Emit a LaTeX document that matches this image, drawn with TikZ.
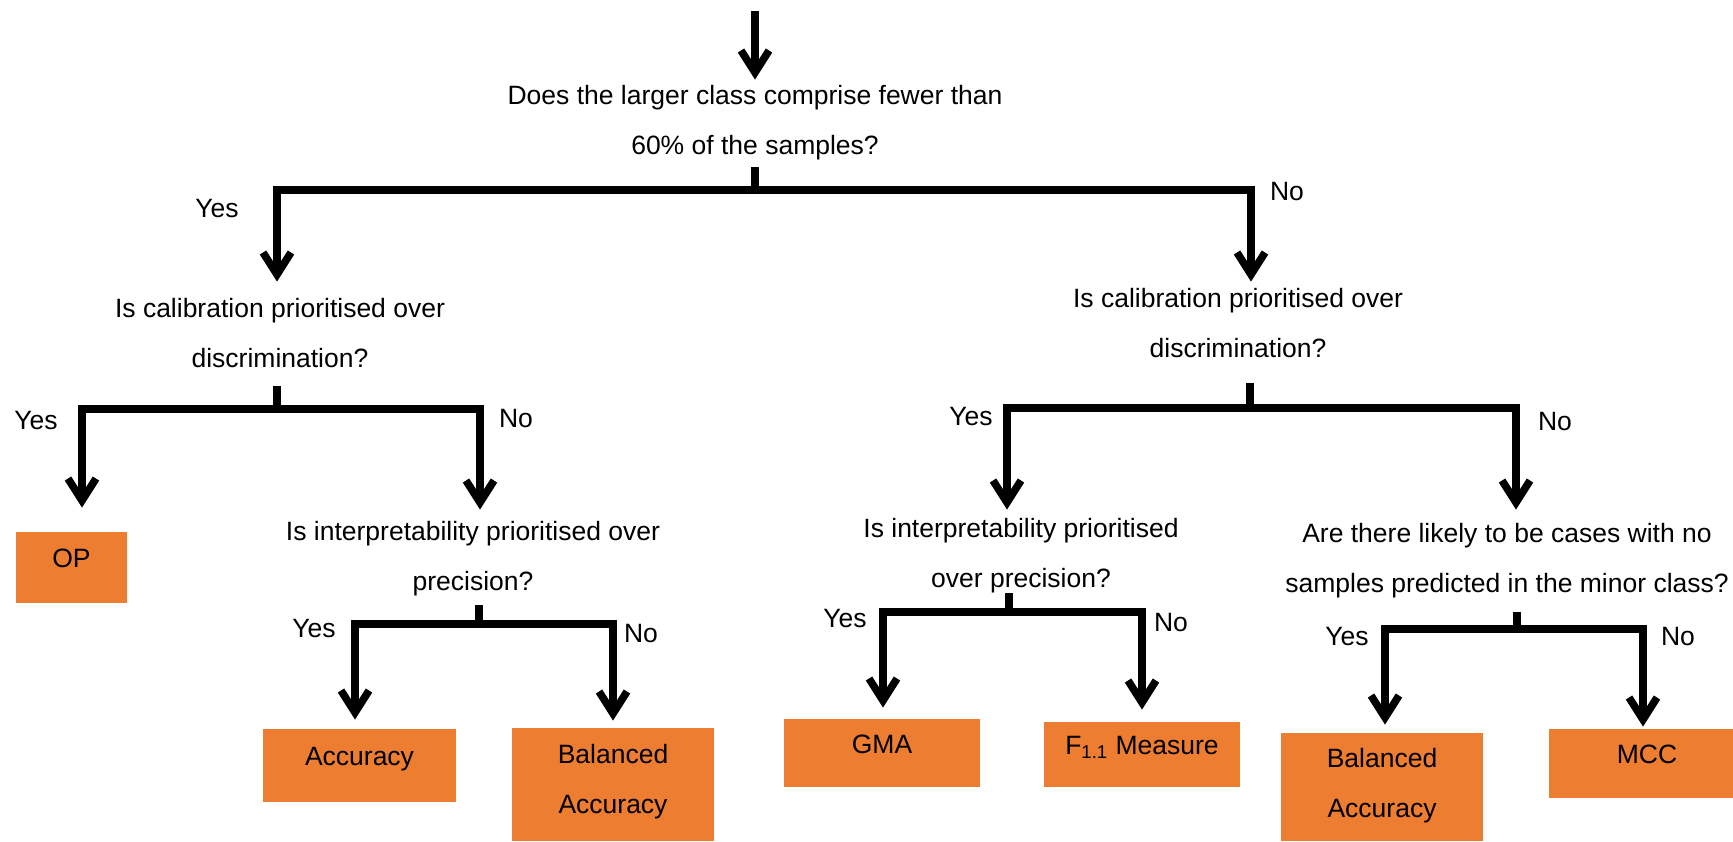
\documentclass[tikz,border=0pt]{standalone}
\usepackage{fontspec}
\setmainfont{Liberation Sans}
\usetikzlibrary{arrows.meta,calc}
\definecolor{boxorange}{HTML}{ED7D31}
\begin{document}
\begin{tikzpicture}[x=0.5pt,y=-0.5pt,
  every node/.style={font=\fontsize{13.25pt}{25pt}\selectfont, inner sep=0pt},
  question/.style={align=center, text height=35pt, text depth=10pt},
  answer/.style={text height=10pt, text depth=10pt},
  metric/.style={fill=boxorange, align=center, text height=10pt, text depth=10pt},
  line/.style={line width=3.8pt, black},
  arr/.style={line, -{Straight Barb[length=11pt,width=14pt]}}]
\useasboundingbox (0,0) rectangle (1733,841);

% questions
\coordinate (entry) at (755,11);
\node[question] (q1)  at (755,129)  {Does the larger class comprise fewer than\\60\% of the samples?};
\node[question] (q2l) at (280,342)  {Is calibration prioritised over\\discrimination?};
\node[question] (q2r) at (1238,332) {Is calibration prioritised over\\discrimination?};
\node[question] (q3l) at (473,565)  {Is interpretability prioritised over\\precision?};
\node[question] (q4)  at (1021,562) {Is interpretability prioritised\\over precision?};
\node[question] (q5)  at (1507,567) {Are there likely to be cases with no\\samples predicted in the minor class?};

% outcome metrics
\node[metric, minimum width=55.5pt, minimum height=35.5pt] (op)   at (71.5,567.5)  {OP};
\node[metric, minimum width=96.5pt, minimum height=36.5pt] (acc)  at (359.5,765.5) {Accuracy};
\node[metric, minimum width=101pt,  minimum height=56.5pt, text height=38.5pt] (ball) at (613,784.5) {Balanced\\Accuracy};
\node[metric, minimum width=98pt,   minimum height=34pt]   (gma)  at (882,753)     {GMA};
\node[metric, minimum width=98pt,   minimum height=32.5pt] (f11)  at (1142,754.5) {F\textsubscript{1.1} Measure};
\node[metric, minimum width=101pt,  minimum height=54pt, text height=40pt] (balr) at (1382,787) {Balanced\\Accuracy};
\node[metric, minimum width=98pt,   minimum height=34.5pt] (mcc)  at (1647,763.5) {MCC};

% branch points on the bars
\coordinate (j1)  at (755,190);
\coordinate (j2l) at (277,409);
\coordinate (j3l) at (479,624);
\coordinate (j2r) at (1250,408);
\coordinate (j4)  at (1009,612);
\coordinate (j5)  at (1517,629);

% yes / no labels
\node[answer] (y1)  at (217,217)  {Yes};
\node[answer] (n1)  at (1287,200) {No};
\node[answer] (y2l) at (36,429)   {Yes};
\node[answer] (n2l) at (516,427)  {No};
\node[answer] (y3l) at (314,637)  {Yes};
\node[answer] (n3l) at (641,642)  {No};
\node[answer] (y2r) at (971,425)  {Yes};
\node[answer] (n2r) at (1555,430) {No};
\node[answer] (y4)  at (845,627)  {Yes};
\node[answer] (n4)  at (1171,631) {No};
\node[answer] (y5)  at (1347,645) {Yes};
\node[answer] (n5)  at (1678,645) {No};

% entry arrow
\draw[arr] (entry) -- ($(q1.north)+(0,-4)$);

% first split
\draw[line] ($(j1 |- q1.south)+(0,-7)$) -- (j1);
\draw[arr] (j1) -| ($(q2l.north)+(-3,-15)$);
\draw[arr] (j1) -| ($(q2r.north)+(13,-5)$);

% left: calibration
\draw[line] ($(j2l |- q2l.south)+(0,-1)$) -- (j2l);
\draw[arr] (j2l) -| ($(op.north)+(10.5,-24)$);
\draw[arr] (j2l) -| ($(q3l.north)+(7,-10)$);

% left: interpretability
\draw[line] ($(j3l |- q3l.south)+(0,-5)$) -- (j3l);
\draw[arr] (j3l) -| ($(acc.north)+(-4.5,-9)$);
\draw[arr] (j3l) -| ($(ball.north)+(0,-7)$);

% right: calibration
\draw[line] ($(j2r |- q2r.south)+(0,6)$) -- (j2r);
\draw[arr] (j2r) -| ($(q4.north)+(-14,-7)$);
\draw[arr] (j2r) -| ($(q5.north)+(9,-12)$);

% right: interpretability
\draw[line] ($(j4 |- q4.south)+(0,-14)$) -- (j4);
\draw[arr] (j4) -| ($(gma.north)+(1,-11)$);
\draw[arr] (j4) -| ($(f11.north)+(0,-12)$);

% right: empty minor class
\draw[line] ($(j5 |- q5.south)+(0,0)$) -- (j5);
\draw[arr] (j5) -| ($(balr.north)+(3,-8)$);
\draw[arr] (j5) -| ($(mcc.north)+(-4,-2)$);
\end{tikzpicture}
\end{document}
